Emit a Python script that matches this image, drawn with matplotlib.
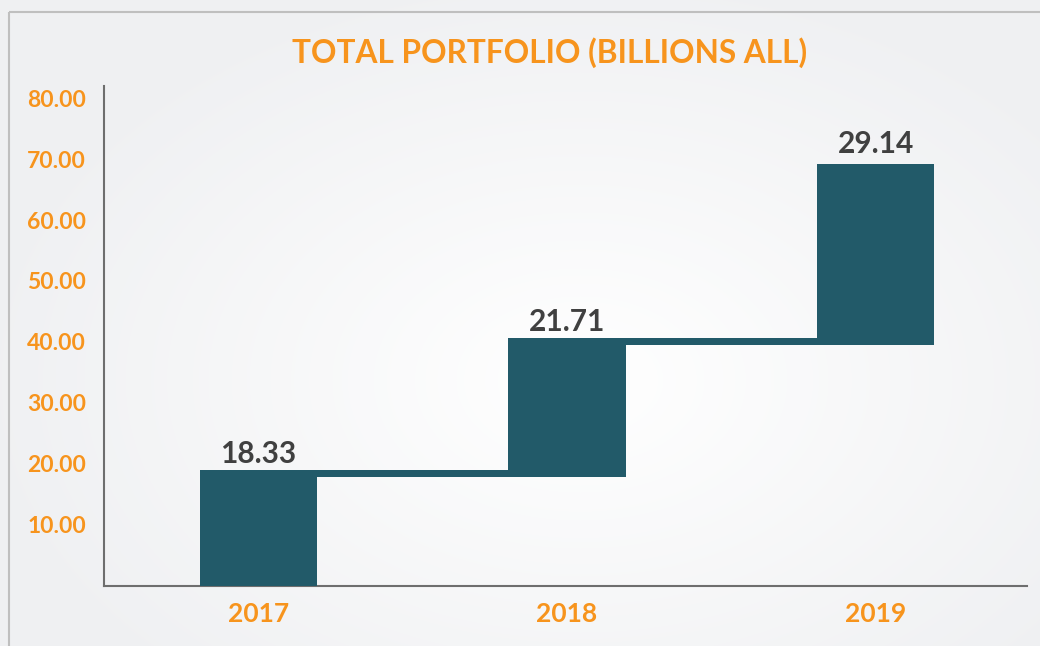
import numpy as np
import matplotlib
matplotlib.use("Agg")
import matplotlib.pyplot as plt
from matplotlib.patches import Rectangle

# Data
years = ["2017", "2018", "2019"]
increments = [18.33, 21.71, 29.14]
y_ticks = [10, 20, 30, 40, 50, 60, 70, 80]
title = "TOTAL PORTFOLIO (BILLIONS ALL)"

BAR = "#225A69"
ORANGE = "#F7941D"
LABEL = "#404040"
FONT = "Lato"

W, H = 1040, 646
fig = plt.figure(figsize=(W / 100, H / 100), dpi=100)

# radial gradient background
bg = fig.add_axes([0, 0, 1, 1], zorder=-10)
yy, xx = np.mgrid[0:H, 0:W]
r = np.sqrt(((xx - 580) / 620.0) ** 2 + ((yy - 380) / 420.0) ** 2)
r = np.clip(r, 0, 1)
c_in = np.array([1.0, 1.0, 1.0])
c_out = np.array([0xEF, 0xF0, 0xF2]) / 255.0
img = c_in[None, None, :] * (1 - r[..., None]) + c_out[None, None, :] * r[..., None]
bg.imshow(img, extent=[0, W, H, 0], aspect="auto")
bg.set_xlim(0, W)
bg.set_ylim(H, 0)
bg.add_patch(Rectangle((8.5, 11.5), W + 20, H + 20, fill=False, edgecolor="#BFBFBF", linewidth=1.5))
bg.axis("off")

ax = fig.add_axes([104 / W, 1 - 585.5 / H, (1027 - 104) / W, (585.5 - 86) / H])
ax.patch.set_alpha(0)

x = np.arange(len(years))
cum = np.cumsum(increments)
bottoms = np.concatenate([[0], cum[:-1]])
width = 0.38
conn_h = 1.1

ax.bar(x, increments, bottom=bottoms, width=width, color=BAR, zorder=3, linewidth=0)

# connectors (thick bands from one bar to the next, at the running total)
conn_left = x[:-1] - width / 2
conn_right = x[1:] + width / 2
ax.bar(conn_left, conn_h, bottom=cum[:-1] - conn_h / 2, width=conn_right - conn_left,
       align="edge", color=BAR, zorder=3, linewidth=0)

for i in range(len(years)):
    ax.text(x[i], cum[i] + 1.0, f"{increments[i]:.2f}", ha="center", va="bottom",
            fontsize=21.5, fontweight="bold", color=LABEL, family=FONT)

ax.set_xlim(-0.5, 2.49)
ax.set_ylim(0, 82)
ax.set_xticks(x)
ax.set_xticklabels(years)
ax.set_yticks(y_ticks)
ax.set_yticklabels([f"{v:.2f}" for v in y_ticks])
ax.tick_params(axis="both", length=0)
ax.tick_params(axis="y", pad=13)
ax.tick_params(axis="x", pad=12)
for lab in ax.get_yticklabels():
    lab.set_fontsize(16.5)
    lab.set_fontweight("bold")
    lab.set_color(ORANGE)
    lab.set_family(FONT)
for lab in ax.get_xticklabels():
    lab.set_fontsize(19)
    lab.set_fontweight("bold")
    lab.set_color(ORANGE)
    lab.set_family(FONT)

for s in ["top", "right"]:
    ax.spines[s].set_visible(False)
for s in ["left", "bottom"]:
    ax.spines[s].set_color("#6E6E6E")
    ax.spines[s].set_linewidth(1.5)

fig.text(550 / W, 1 - 53 / H, title, ha="center", va="center", fontsize=22.8,
         fontweight="bold", color=ORANGE, family=FONT)

fig.savefig("out.png", dpi=100)
